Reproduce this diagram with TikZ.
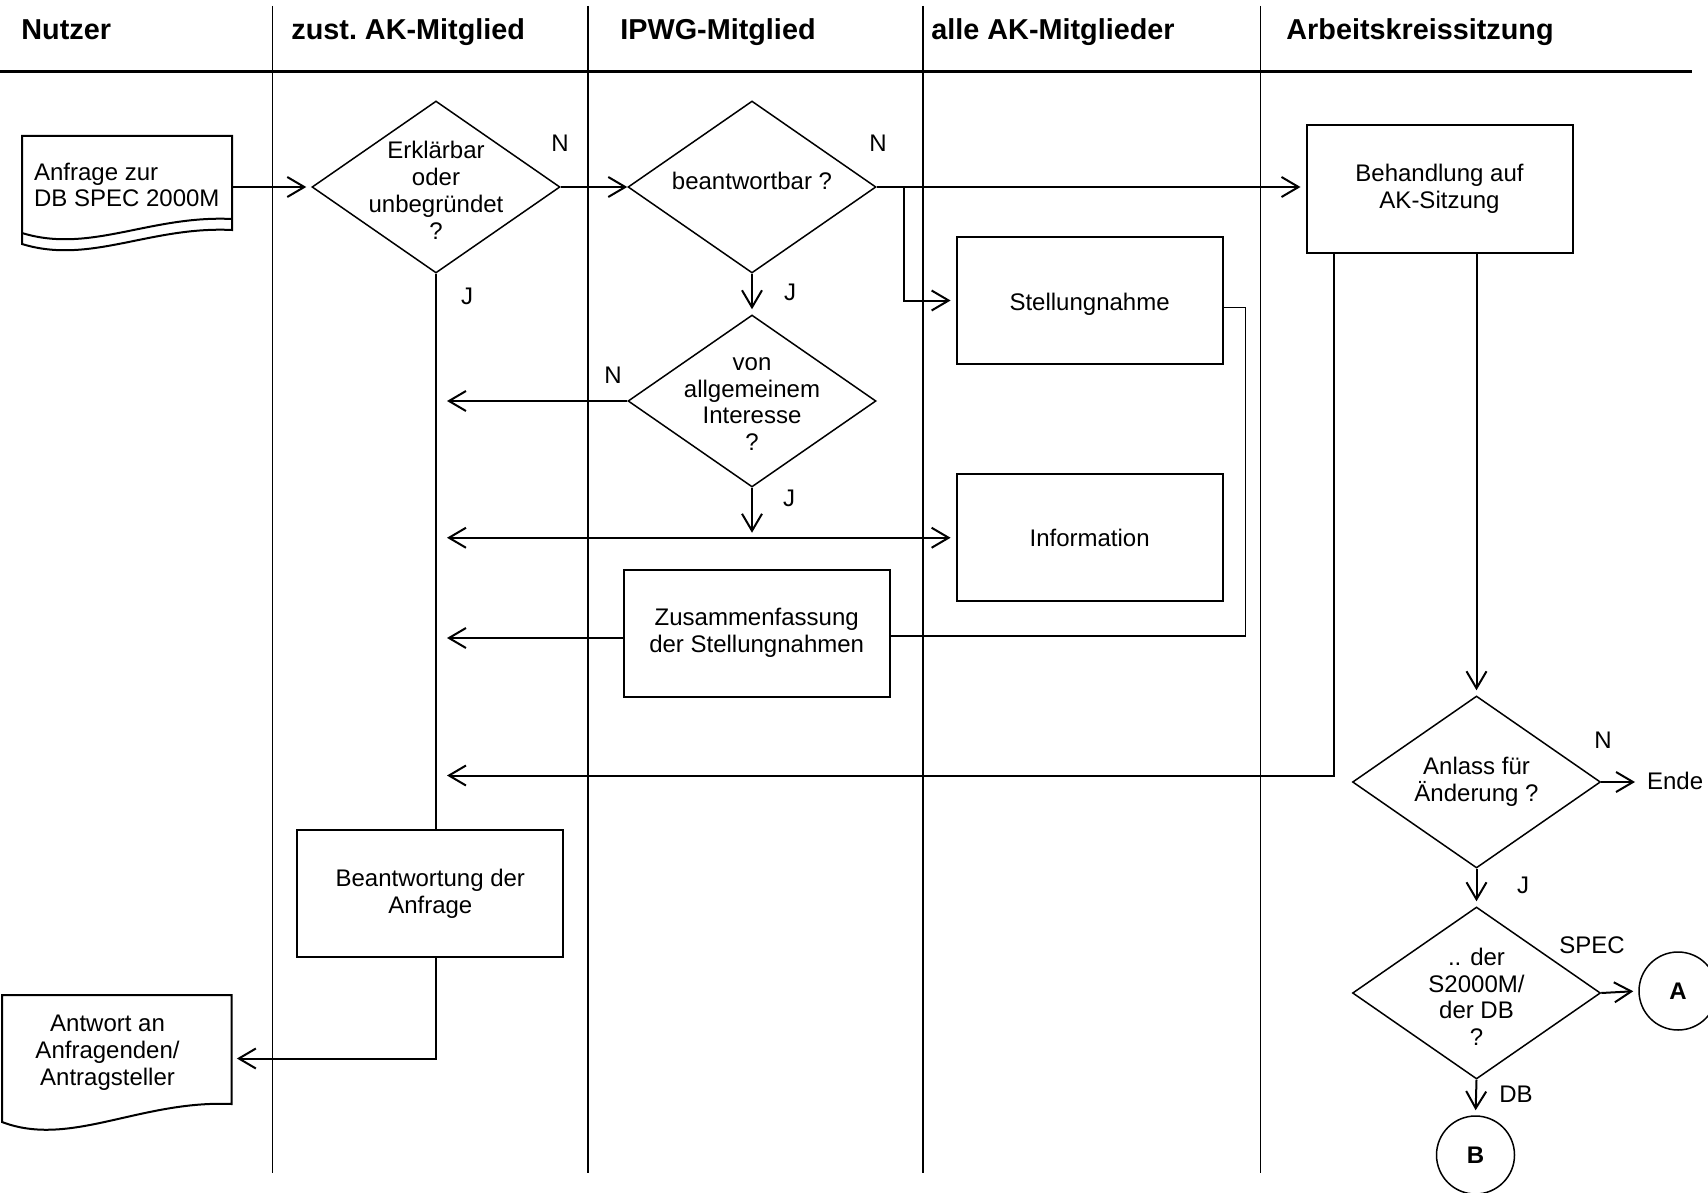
\documentclass[tikz,border=0pt]{standalone}
\usepackage{fontspec}
\setmainfont{Liberation Sans}
\usetikzlibrary{shapes.geometric,arrows.meta}

\begin{document}
\begin{tikzpicture}[x=0.5pt,y=-0.5pt,
        font=\fontsize{12}{13.4}\selectfont,
        >={Straight Barb[length=8.5pt,width=10pt]},
        lane/.style={line width=0.85pt},
        head/.style={anchor=base west,inner sep=0pt,font=\fontsize{14.4}{17}\selectfont\bfseries},
        box/.style={draw,line width=1pt,minimum width=133pt,minimum height=63.5pt,align=center},
        dia/.style={draw,diamond,line width=0.75pt,minimum width=124pt,minimum height=86pt,inner sep=0pt},
        circ/.style={draw,circle,line width=0.75pt,minimum size=39pt,inner sep=0pt,font=\fontsize{12}{13.4}\selectfont\bfseries},
        flow/.style={line width=1pt},
        arr/.style={flow,->,shorten >=2.5pt}]
        \useasboundingbox (0,0) rectangle (1708,1193);
        \node[head] (hNutzer) at (21,40) {Nutzer};
        \node[head] (hAK) at (291,40) {zust.\ AK-Mitglied};
        \node[head] (hIPWG) at (620,40) {IPWG-Mitglied};
        \node[head] (hAlle) at (931,40) {alle AK-Mitglieder};
        \node[head] (hSitzung) at (1286,40) {Arbeitskreissitzung};
        \draw[line width=1.5pt] (0,72) -- (1692,72);
        \foreach \x in {272.5,588,922.7,1260.5}
            \draw[lane] (\x,6) -- (\x,1173);
        \draw[flow] (22,136) -- (232,136) -- (232,230) .. controls (150,226) and (90,265) .. (22,244) -- cycle;
        \draw[flow] (22,233) .. controls (90,254) and (150,215) .. (232,219);
        \draw[flow] (2,995) -- (231.5,995) -- (231.5,1104) .. controls (140,1100) and (70,1148) .. (2,1122) -- cycle;
        \node[minimum width=105pt,minimum height=50pt] (anfr) at (127,187) {};
        \node[anchor=west,align=left,inner sep=0pt] (anfrText) at (33.7,185) {Anfrage zur\\DB SPEC 2000M};
        \node[minimum width=114.75pt,minimum height=63.5pt,
            label={[align=center,xshift=-4.6pt,yshift=2.9pt]center:Antwort an\\Anfragenden/\\Antragsteller}] (antw) at (116.75,1058.5) {};
        \node[dia,label={[align=center,yshift=-1.7pt]center:Erklärbar\\oder\\unbegründet\\?}] (d1) at (436,187) {};
        \node[dia,label={[yshift=2.85pt]center:beantwortbar ?}] (d2) at (752,187) {};
        \node[dia,label={[align=center,yshift=-1.5pt]center:von\\allgemeinem\\Interesse\\?}] (d3) at (752,401) {};
        \node[dia,label={[align=center]center:Anlass für\\Änderung ?}] (d4) at (1476.5,782) {};
        \node[dia,label={[align=center,yshift=-1.9pt]center:.. der\\S2000M/\\der DB\\?}] (d5) at (1476.5,993) {};
        \node[box,label={[yshift=-2pt]center:Stellungnahme}] (stell) at (1089.6,300.5) {};
        \node[box] (info) at (1089.6,537.75) {Information};
        \node[box] (zus) at (756.7,633) {Zusammenfassung\\der Stellungnahmen};
        \node[box] (beh) at (1439.5,189) {Behandlung auf\\AK-Sitzung};
        \node[box] (beant) at (430.3,893.5) {Beantwortung der\\Anfrage};
        \node[circ] (A) at (1678,991) {A};
        \node[circ] (B) at (1475.5,1155) {B};
        \node[anchor=west] (ende) at (1640,780.5) {Ende};
        \node (lN1) at (560,143) {N};
        \node (lJ1) at (467,296) {J};
        \node (lN2) at (878,143) {N};
        \node (lJ2) at (790,292) {J};
        \node (lN3) at (613,375) {N};
        \node (lJ3) at (789,498) {J};
        \node (lN4) at (1603,740) {N};
        \node (lJ4) at (1523,885) {J};
        \node (lSpec) at (1592,945) {SPEC};
        \node (lDB) at (1516,1094) {DB};
        \coordinate (ak) at (442,0);
        \coordinate (br) at (903.5,187);
        \coordinate (back) at (1333.5,775.5);
        \coordinate (zusL) at ([yshift=-2.5pt]zus.west);
        \coordinate (zusR) at ([yshift=-1.5pt]zus.east);
        \draw[arr] (anfr.east) -- (d1.west);
        \draw[arr,shorten >=0pt] (d1.east) -- (d2.west);
        \draw[arr] (d2.east) -- (d2.east -| beh.west);
        \draw[arr] (br) |- (stell.west);
        \draw[arr] (d2.south) -- (d3.north);
        \draw[arr] (d3.west) -- (ak |- d3.west);
        \draw[arr] (d3.south) -- (d3.south |- info.west);
        \draw[flow,<->,shorten >=2.5pt,shorten <=2.5pt] (ak |- info.west) -- (info.west);
        \draw[arr] (zusL) -- (ak |- zusL);
        \draw[line width=0.65pt] ([yshift=-3.5pt]stell.east) -- ++(22,0) |- (zusR);
        \draw[arr] (beh.south -| back) -- (back) -- (ak |- back);
        \draw[arr] (beh.south -| d4.north) -- (d4.north);
        \draw[arr] (d4.east) -- (d4.east -| ende.west);
        \draw[arr] (d4.south) -- (d5.north);
        \draw[arr] (d5.east) -- (A.west);
        \draw[arr] (d5.south) -- (B.north);
        \draw[flow] (d1.south) -- (d1.south |- beant.north);
        \draw[arr] (beant.south -| d1.south) |- (antw.east);
    \end{tikzpicture}
\end{document}
